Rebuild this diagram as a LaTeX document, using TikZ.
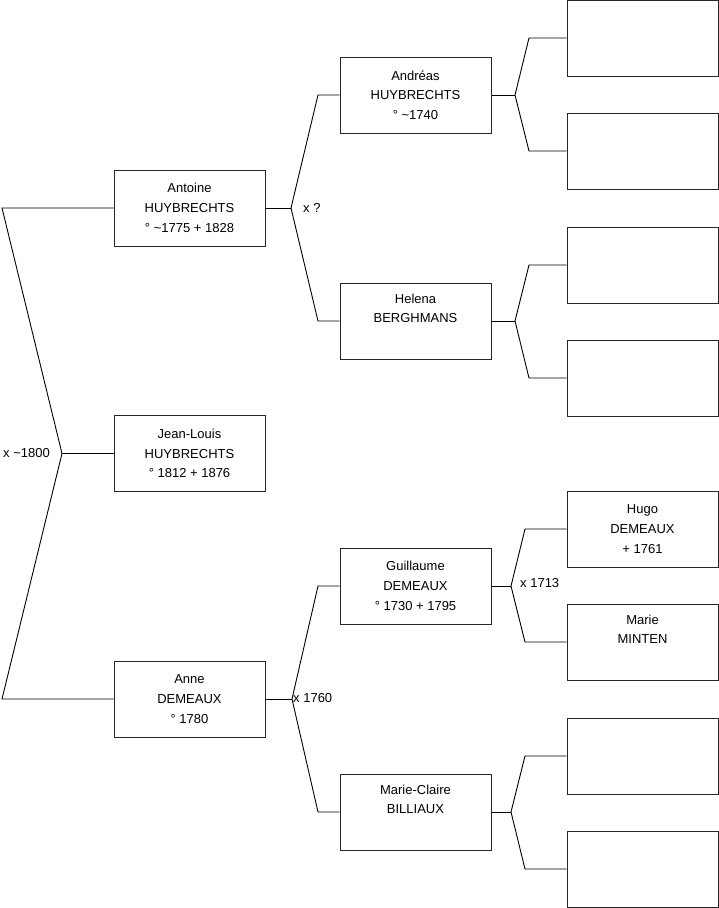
\documentclass[tikz,border=0pt]{standalone}
\usepackage{fontspec}
\setmainfont{Liberation Sans}
\begin{document}
\begin{tikzpicture}[x=1pt,y=-1pt,
  person/.style={draw=black!85, line width=1pt, minimum width=151pt, minimum height=76pt,
    inner sep=0pt, align=center, font=\fontsize{13}{19.7}\selectfont},
  link/.style={draw=black, line width=0.9pt, line join=miter},
  lbl/.style={inner sep=0pt, font=\fontsize{13}{15}\selectfont}]
\useasboundingbox (0,0) rectangle (719,908);

% generation 1
\node[person] (antoine) at (189.5,208) {Antoine\\HUYBRECHTS\\° \textasciitilde1775 + 1828};
\node[person] (jl) at (189.5,453.5) {Jean-Louis\\HUYBRECHTS\\° 1812 + 1876};
\node[person] (anne) at (189.5,699) {Anne\\DEMEAUX\\° 1780};

% generation 2
\node[person] (andreas) at (415.5,95) {Andréas\\HUYBRECHTS\\° \textasciitilde1740};
\node[person] (helena) at (415.5,321) {Helena\\BERGHMANS\\\strut};
\node[person] (guillaume) at (415.5,586) {Guillaume\\DEMEAUX\\° 1730 + 1795};
\node[person] (mclaire) at (415.5,812) {Marie-Claire\\BILLIAUX\\\strut};

% generation 3
\node[person] (g1) at (642.5,38) {};
\node[person] (g2) at (642.5,151) {};
\node[person] (g3) at (642.5,265) {};
\node[person] (g4) at (642.5,378) {};
\node[person] (hugo) at (642.5,529) {Hugo\\DEMEAUX\\+ 1761};
\node[person] (marie) at (642.5,642) {Marie\\MINTEN\\\strut};
\node[person] (g7) at (642.5,756) {};
\node[person] (g8) at (642.5,869) {};

% root fork
\coordinate (r) at (62,453.5);
\coordinate (rt) at (2,208);
\coordinate (rb) at (2,699);
\draw[link] (antoine.west) -- (rt) -- (r) -- (rb) -- (anne.west);
\draw[link] (r) -- (jl.west);
\node[lbl, anchor=east] (m0) at (50,453.5) {x \textasciitilde1800};

% Antoine fork
\coordinate (fa) at (291,208);
\coordinate (fa1) at (318,95);
\coordinate (fa2) at (318,321);
\draw[link] (antoine.east) -- (fa);
\draw[link] (andreas.west) -- (fa1) -- (fa) -- (fa2) -- (helena.west);
\node[lbl, anchor=west] (m1) at (303,208) {x ?};

% Anne fork
\coordinate (fb) at (292,699);
\coordinate (fb1) at (318,586);
\coordinate (fb2) at (318,812);
\draw[link] (anne.east) -- (fb);
\draw[link] (guillaume.west) -- (fb1) -- (fb) -- (fb2) -- (mclaire.west);
\node[lbl, anchor=west] (m2) at (293,698) {x 1760};

% Andreas fork
\coordinate (fc) at (515,95);
\coordinate (fc1) at (529,38);
\coordinate (fc2) at (529,151);
\draw[link] (andreas.east) -- (fc);
\draw[link] (g1.west) -- (fc1) -- (fc) -- (fc2) -- (g2.west);

% Helena fork
\coordinate (fd) at (515,321);
\coordinate (fd1) at (529,265);
\coordinate (fd2) at (529,378);
\draw[link] (helena.east) -- (fd);
\draw[link] (g3.west) -- (fd1) -- (fd) -- (fd2) -- (g4.west);

% Guillaume fork
\coordinate (fe) at (511,586);
\coordinate (fe1) at (525,529);
\coordinate (fe2) at (525,642);
\draw[link] (guillaume.east) -- (fe);
\draw[link] (hugo.west) -- (fe1) -- (fe) -- (fe2) -- (marie.west);
\node[lbl, anchor=west] (m3) at (520,583) {x 1713};

% Marie-Claire fork
\coordinate (ff) at (511,812);
\coordinate (ff1) at (525,756);
\coordinate (ff2) at (525,869);
\draw[link] (mclaire.east) -- (ff);
\draw[link] (g7.west) -- (ff1) -- (ff) -- (ff2) -- (g8.west);
\end{tikzpicture}
\end{document}
